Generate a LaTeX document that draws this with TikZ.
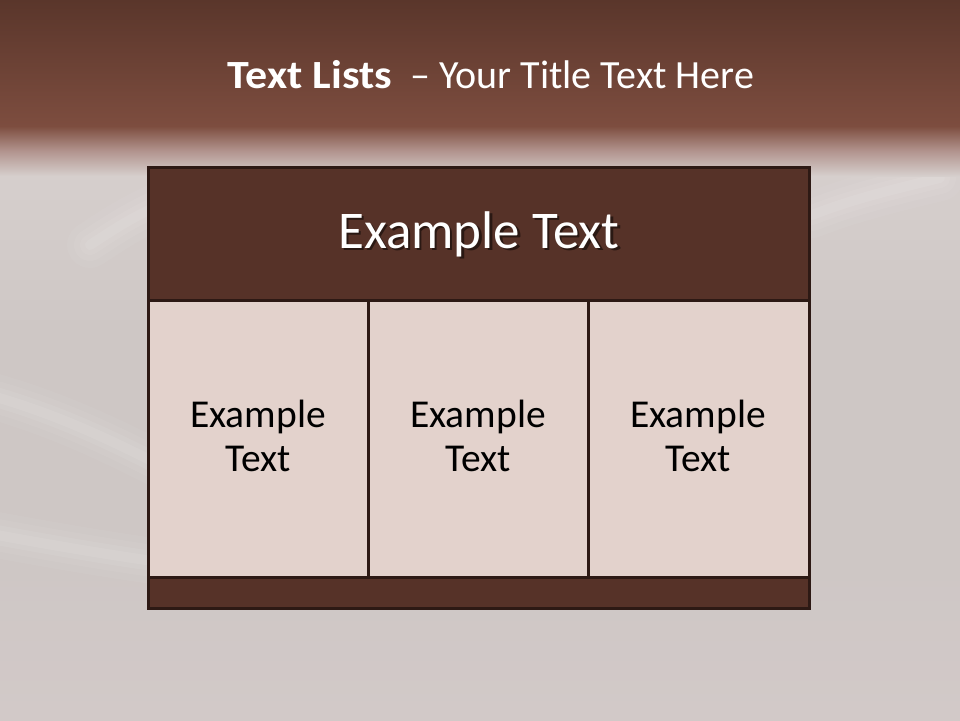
\documentclass[tikz,border=0pt]{standalone}
\usepackage{fontspec}
\setmainfont{Carlito}
\usetikzlibrary{positioning}
\definecolor{bandtop}{HTML}{5A362B}
\definecolor{bandbot}{HTML}{7D4D3F}
\definecolor{bandmid}{HTML}{B2948E}
\definecolor{bggrey}{HTML}{CEC7C5}
\definecolor{bglight}{HTML}{D6CFCD}
\definecolor{bgbottom}{HTML}{D2C9C8}
\definecolor{edgec}{HTML}{2D1914}
\definecolor{headfill}{HTML}{563228}
\definecolor{cellfill}{HTML}{E3D2CC}
\tikzset{
  cellbox/.style={draw=edgec, line width=3pt, fill=cellfill, anchor=north west, inner sep=0pt, outer sep=0pt, minimum height=277pt},
  darkbox/.style={draw=edgec, line width=3pt, fill=headfill, anchor=north west, inner sep=0pt, outer sep=0pt, minimum width=661pt},
  celltext/.style={align=center, text=black, font=\fontsize{39.5}{44}\selectfont, inner sep=0pt},
  streak/.style={white, line cap=round},
}
\begin{document}
\begin{tikzpicture}[x=1pt,y=-1pt]
\useasboundingbox (0,0) rectangle (960,720);
% background
\fill[bggrey] (0,0) rectangle (960,720);
\shade[top color=bglight, bottom color=bggrey] (0,170) rectangle (960,330);
\shade[top color=bggrey, bottom color=bgbottom] (0,560) rectangle (960,720);
% streaks
\foreach \w/\o in {46/0.04,32/0.05,20/0.06,10/0.07}{
  \draw[streak, line width=\w pt, opacity=\o] (-30,390) .. controls (50,410) and (110,440) .. (160,465);
  \draw[streak, line width=\w pt, opacity=\o] (-30,530) .. controls (50,545) and (110,555) .. (160,562);
  \draw[streak, line width=\w pt, opacity=\o] (90,245) .. controls (110,232) and (130,218) .. (160,205);
  \draw[streak, line width=\w pt, opacity=\o] (812,215) .. controls (850,200) and (890,190) .. (940,178);
}
% top band
\shade[top color=bandtop, bottom color=bandbot] (0,0) rectangle (960,126);
\shade[top color=bandbot, bottom color=bglight, middle color=bandmid] (0,126) rectangle (960,176);
% title
\node[anchor=base, inner sep=0pt, text=white, font=\fontsize{40}{46}\selectfont] (title) at (491,88)
  {\scalebox{1.1}[1]{\textbf{Text Lists}}\hspace{0.45em}– Your Title Text Here};
% table
\node[darkbox, minimum height=133pt] (head) at (148,167) {};
\node[cellbox, minimum width=220pt] (c1) at (148,300) {};
\node[cellbox, minimum width=220pt] (c2) at (368,300) {};
\node[cellbox, minimum width=221pt] (c3) at (588,300) {};
\node[darkbox, minimum height=31pt] (foot) at (148,577) {};
% header text with shadow
\node[anchor=base, inner sep=0pt, text=black, opacity=0.5, font=\fontsize{53}{60}\selectfont] (headshadow) at (481.5,250.5) {Example Text};
\node[anchor=base, inner sep=0pt, text=white, font=\fontsize{53}{60}\selectfont] (headtext) at (479,248) {Example Text};
% cell texts
\node[celltext, anchor=base] (t1) at (258,471) {Example\\Text};
\node[celltext, anchor=base] (t2) at (478,471) {Example\\Text};
\node[celltext, anchor=base] (t3) at (698,471) {Example\\Text};
\end{tikzpicture}
\end{document}
